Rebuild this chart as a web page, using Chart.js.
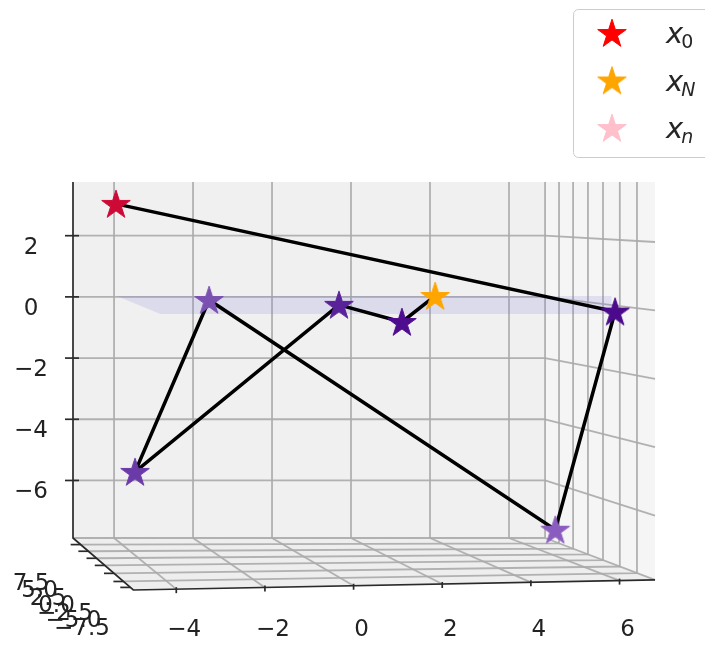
<!DOCTYPE html>
<html>
<head>
<meta charset="utf-8">
<script src="https://cdn.jsdelivr.net/npm/chart.js@4.4.1/dist/chart.umd.min.js"></script>
<style>
  html, body { margin: 0; padding: 0; background: #ffffff; }
  #wrap { width: 705px; height: 651px; }
</style>
</head>
<body>
<div id="wrap"><canvas id="trajectory-chart" width="705" height="651"></canvas></div>
<script>
// tick labels
var xTicks = [-4, -2, 0, 2, 4, 6];
var zTicks = [-6, -4, -2, 0, 2];
var depthTicks = ["7.5", "5.0", "2.5", "0.0", "\u22122.5", "\u22125.0", "\u22127.5"];

// trajectory x0 -> ... -> xN
var pathX = [-5.36, 5.90, 4.55, -3.26, -4.93, -0.33, 1.09, 1.84];
var pathY = [3.04, -0.48, -7.61, -0.10, -5.72, -0.26, -0.82, 0.03];
var starColors = ["#cc0a35", "#4b0a8c", "#8a5cc0", "#7a50b0", "#6a3aa8", "#5a2299", "#4e0c8e", "#ffa500"];

// the flat surface seen edge-on
var bandX = [-5.34, 5.82, 5.82, -4.36];
var bandY = [0.03, 0.03, -0.56, -0.56];

// legend
var legendSubs = ["0", "N", "n"];
var legendItalic = [false, true, true];
var legendColors = ["#ff0000", "#ffa500", "#ffc0cb"];

// pane geometry in data units (perspective box)
var box = {
    left: -6.33, right: 6.80, top: 3.755, bottom: -9.58,
    backRight: 4.32, backBottom: -7.88,
    frontLeft: -4.97, frontLeftZ: -9.58,
    frontRight: 6.80, frontRightZ: -9.25,
    backShift: -1.84, backScale: 0.891
};
var depthFracs = [0.127, 0.255, 0.39, 0.527, 0.68, 0.836];

var FONT = "'DejaVu Sans', sans-serif";

function starImage(color, r) {
    var c = document.createElement("canvas");
    var size = Math.ceil(r * 2 + 4);
    c.width = size;
    c.height = size;
    var g = c.getContext("2d");
    g.beginPath();
    for (var i = 0; i < 10; i++) {
        var rad = i % 2 === 0 ? r : r * 0.382;
        var a = -Math.PI / 2 + i * Math.PI / 5;
        g.lineTo(size / 2 + rad * Math.cos(a), size / 2 + rad * Math.sin(a) + r * 0.08);
    }
    g.closePath();
    g.fillStyle = color;
    g.fill();
    g.lineWidth = 1;
    g.strokeStyle = color;
    g.stroke();
    return c;
}

var starPoints = [];
var starStyles = [];
for (var i = 0; i < pathX.length; i++) {
    starPoints.push({ x: pathX[i], y: pathY[i] });
    starStyles.push(starImage(starColors[i], 15));
}
var bandPoints = [];
for (var j = 0; j < bandX.length; j++) {
    bandPoints.push({ x: bandX[j], y: bandY[j] });
}

function line(ctx, pts) {
    ctx.beginPath();
    ctx.moveTo(pts[0][0], pts[0][1]);
    for (var k = 1; k < pts.length; k++) ctx.lineTo(pts[k][0], pts[k][1]);
}

var panes = {
    id: "panes",
    beforeDatasetsDraw: function(chart) {
        var ctx = chart.ctx;
        var xs = chart.scales.x, ys = chart.scales.y;
        function P(u, z) { return [xs.getPixelForValue(u), ys.getPixelForValue(z)]; }
        var b = box;
        ctx.save();

        // pane fills
        line(ctx, [P(b.left, b.top), P(b.backRight, b.top), P(b.backRight, b.backBottom), P(b.left, b.backBottom)]);
        ctx.fillStyle = "#f0f0f0"; ctx.fill();
        line(ctx, [P(b.backRight, b.top), P(b.frontRight, b.top), P(b.frontRight, b.frontRightZ), P(b.backRight, b.backBottom)]);
        ctx.fillStyle = "#f5f5f5"; ctx.fill();
        line(ctx, [P(b.left, b.backBottom), P(b.backRight, b.backBottom), P(b.frontRight, b.frontRightZ), P(b.frontLeft, b.frontLeftZ)]);
        ctx.fillStyle = "#eeeeee"; ctx.fill();

        ctx.strokeStyle = "rgba(170,170,170,0.9)";
        ctx.lineWidth = 1.8;

        // back wall grid
        xTicks.forEach(function(v) {
            var u = b.backShift + b.backScale * v;
            line(ctx, [P(u, b.top), P(u, b.backBottom)]); ctx.stroke();
            var fz = b.frontLeftZ + (b.frontRightZ - b.frontLeftZ) * (v - b.frontLeft) / (b.frontRight - b.frontLeft);
            line(ctx, [P(u, b.backBottom), P(v, fz)]); ctx.stroke();
        });
        zTicks.forEach(function(z) {
            line(ctx, [P(b.left, z), P(b.backRight, z)]); ctx.stroke();
            var f = (b.top - z) / (b.top - b.backBottom);
            var zr = b.top - f * (b.top - b.frontRightZ);
            line(ctx, [P(b.backRight, z), P(b.frontRight, zr)]); ctx.stroke();
        });
        line(ctx, [P(b.backRight, b.top), P(b.backRight, b.backBottom), P(b.frontRight, b.frontRightZ)]); ctx.stroke();
        line(ctx, [P(b.left, b.backBottom), P(b.backRight, b.backBottom)]); ctx.stroke();

        // depth grid (floor + side wall)
        depthFracs.forEach(function(t) {
            var lx = b.left + (b.frontLeft - b.left) * t, lz = b.backBottom + (b.frontLeftZ - b.backBottom) * t;
            var rx = b.backRight + (b.frontRight - b.backRight) * t, rz = b.backBottom + (b.frontRightZ - b.backBottom) * t;
            line(ctx, [P(lx, lz), P(rx, rz), P(rx, b.top)]); ctx.stroke();
        });

        // axis lines
        ctx.strokeStyle = "#2a2a2a";
        ctx.lineWidth = 1.7;
        line(ctx, [P(b.left, b.top), P(b.left, b.backBottom), P(b.frontLeft, b.frontLeftZ), P(b.frontRight, b.frontRightZ)]);
        ctx.stroke();
        zTicks.forEach(function(z) {
            var p = P(b.left, z);
            line(ctx, [[p[0] - 8, p[1]], [p[0] + 6, p[1]]]); ctx.stroke();
        });
        depthFracs.concat([0.95]).forEach(function(t) {
            var p = P(b.left + (b.frontLeft - b.left) * t, b.backBottom + (b.frontLeftZ - b.backBottom) * t);
            line(ctx, [[p[0] - 10, p[1]], [p[0], p[1]]]); ctx.stroke();
        });
        xTicks.forEach(function(v) {
            var fz = b.frontLeftZ + (b.frontRightZ - b.frontLeftZ) * (v - b.frontLeft) / (b.frontRight - b.frontLeft);
            var p = P(v, fz);
            line(ctx, [[p[0], p[1] - 2], [p[0], p[1] + 4]]); ctx.stroke();
        });

        // depth tick labels, squeezed together
        var corner = P(b.left, b.backBottom);
        ctx.fillStyle = "#222";
        ctx.font = "23px " + FONT;
        ctx.textAlign = "center";
        ctx.textBaseline = "middle";
        depthTicks.forEach(function(lbl, k) {
            ctx.fillText(lbl, corner[0] - 42 + 8.5 * k, corner[1] + 46 + 7.5 * k);
        });
        ctx.restore();
    }
};

var legendBox = {
    id: "legendBox",
    afterDraw: function(chart) {
        var ctx = chart.ctx;
        ctx.save();
        ctx.beginPath();
        ctx.roundRect(573.5, 9.5, 160, 148, 5);
        ctx.fillStyle = "rgba(255,255,255,0.85)";
        ctx.fill();
        ctx.strokeStyle = "#cccccc";
        ctx.lineWidth = 1;
        ctx.stroke();
        for (var k = 0; k < legendSubs.length; k++) {
            var cy = 33 + 47.5 * k;
            var img = starImage(legendColors[k], 15);
            ctx.drawImage(img, 612 - img.width / 2, cy - img.height / 2);
            ctx.fillStyle = "#262626";
            ctx.textAlign = "left";
            ctx.textBaseline = "alphabetic";
            ctx.font = "italic 29px " + FONT;
            ctx.fillText("x", 666, cy + 10);
            var w = ctx.measureText("x").width;
            ctx.font = (legendItalic[k] ? "italic " : "") + "19px " + FONT;
            ctx.fillText(legendSubs[k], 666 + w - 2, cy + 15);
        }
        ctx.restore();
    }
};

var ctx = document.getElementById("trajectory-chart");

var chartData = {
    datasets: [{
        label: "stars",
        data: starPoints,
        pointStyle: starStyles,
        pointRadius: 15,
        showLine: false,
        order: 0
    }, {
        label: "path",
        data: starPoints,
        showLine: true,
        borderColor: "#000000",
        borderWidth: 3.5,
        pointRadius: 0,
        order: 1
    }, {
        label: "surface",
        data: bandPoints,
        showLine: true,
        fill: "shape",
        backgroundColor: "rgba(120,120,215,0.17)",
        borderWidth: 0,
        pointRadius: 0,
        order: 2
    }]
};

var config = {
    type: "scatter",
    data: chartData,
    plugins: [panes, legendBox],
    options: {
        responsive: false,
        animation: false,
        devicePixelRatio: 1,
        layout: { padding: { top: 182, right: 50, bottom: 0, left: 0 } },
        plugins: { legend: { display: false }, tooltip: { enabled: false } },
        scales: {
            x: {
                type: "linear",
                min: box.left,
                max: box.right,
                grid: { display: false, drawTicks: false },
                border: { display: false },
                afterBuildTicks: function(axis) {
                    axis.ticks = xTicks.map(function(v) { return { value: v }; });
                },
                afterFit: function(axis) { axis.height = 61; },
                ticks: {
                    padding: 26,
                    labelOffset: 8,
                    maxRotation: 0,
                    color: "#222",
                    font: { family: FONT, size: 23 },
                    callback: function(v) { return v < 0 ? "\u2212" + Math.abs(v) : "" + v; }
                }
            },
            y: {
                type: "linear",
                min: box.bottom,
                max: box.top,
                grid: { display: false, drawTicks: false },
                border: { display: false },
                afterBuildTicks: function(axis) {
                    axis.ticks = zTicks.map(function(v) { return { value: v }; });
                },
                afterFit: function(axis) { axis.width = 73; },
                ticks: {
                    padding: 25,
                    labelOffset: 12,
                    crossAlign: "center",
                    color: "#222",
                    font: { family: FONT, size: 23 },
                    callback: function(v) { return v < 0 ? "\u2212" + Math.abs(v) : "" + v; }
                }
            }
        }
    }
};

var trajectoryChart = new Chart(ctx, config);
</script>
</body>
</html>
